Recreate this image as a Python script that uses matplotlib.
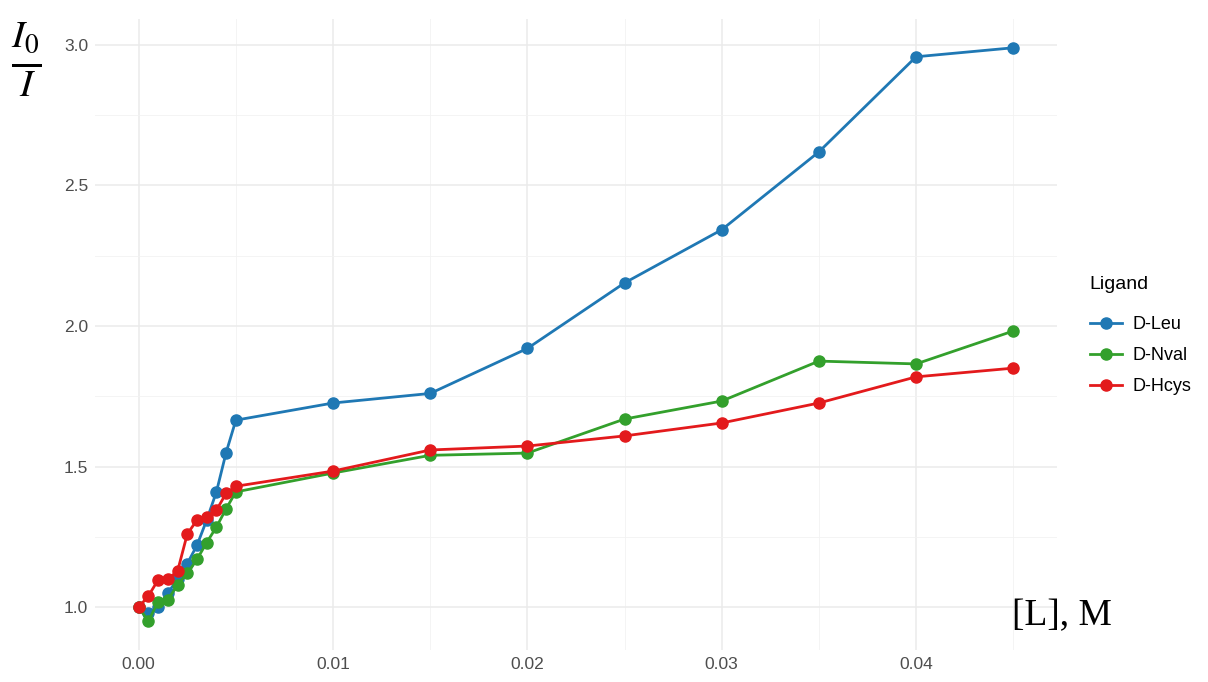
import numpy as np
import matplotlib.pyplot as plt
from matplotlib.ticker import MultipleLocator

# ligand concentration, M
conc = [0.0, 0.0005, 0.001, 0.0015, 0.002, 0.0025, 0.003, 0.0035, 0.004, 0.0045, 0.005,
        0.01, 0.015, 0.02, 0.025, 0.03, 0.035, 0.04, 0.045]

# I0/I for each ligand
d_leu = [1.00, 0.98, 1.00, 1.05, 1.10, 1.155, 1.22, 1.31, 1.41, 1.55, 1.665,
         1.726, 1.76, 1.92, 2.153, 2.342, 2.619, 2.957, 2.989]
d_nval = [1.00, 0.95, 1.02, 1.025, 1.08, 1.12, 1.17, 1.23, 1.285, 1.35, 1.41,
          1.477, 1.54, 1.548, 1.669, 1.733, 1.875, 1.865, 1.982]
d_hcys = [1.00, 1.04, 1.097, 1.10, 1.128, 1.26, 1.31, 1.32, 1.345, 1.405, 1.43,
          1.484, 1.559, 1.573, 1.609, 1.655, 1.726, 1.819, 1.85]

series = [("D-Leu", d_leu, "#1F78B4"),
          ("D-Nval", d_nval, "#33A02C"),
          ("D-Hcys", d_hcys, "#E31A1C")]

plt.rcParams['font.family'] = ['Liberation Sans', 'DejaVu Sans']
plt.rcParams['mathtext.fontset'] = 'stix'

fig = plt.figure(figsize=(12.08, 6.82), dpi=100)
ax = fig.add_axes([0.0786, 0.047, 0.7964, 0.925])

for name, vals, col in series:
    ax.plot(conc, vals, color=col, lw=2, marker='o', ms=8, label=name)

x0, x1 = 0.0, 0.045
y0, y1 = min(min(s[1]) for s in series), max(max(s[1]) for s in series)
ax.set_xlim(x0 - 0.05 * (x1 - x0), x1 + 0.05 * (x1 - x0))
ax.set_ylim(y0 - 0.05 * (y1 - y0), y1 + 0.05 * (y1 - y0))

ax.xaxis.set_major_locator(MultipleLocator(0.01))
ax.xaxis.set_minor_locator(MultipleLocator(0.005))
ax.yaxis.set_major_locator(MultipleLocator(0.5))
ax.yaxis.set_minor_locator(MultipleLocator(0.25))
ax.xaxis.set_major_formatter(plt.FuncFormatter(lambda v, p: f"{v:.2f}"))
ax.yaxis.set_major_formatter(plt.FuncFormatter(lambda v, p: f"{v:.1f}"))

ax.grid(which='major', color='#EBEBEB', lw=1.1)
ax.grid(which='minor', color='#F2F2F2', lw=0.6)
ax.set_axisbelow(True)
for s in ax.spines.values():
    s.set_visible(False)
ax.tick_params(which='both', length=0, labelsize=12.5, labelcolor='#4D4D4D', pad=5)

fig.text(0.022, 0.912, r"$\frac{I_0}{I}$", fontsize=40, ha='center', va='center')
fig.text(0.838, 0.097, "[L], M", fontsize=27, family='Liberation Serif',
         ha='left', va='center')

leg = ax.legend(title="Ligand", loc='center left', bbox_to_anchor=(1.017, 0.498),
                frameon=False, fontsize=13, title_fontsize=14, handlelength=1.8,
                handletextpad=0.6, labelspacing=0.78, alignment='left')
# a bit more room between the title and the entries
leg._legend_box.sep += 6

fig.savefig("out.png", dpi=100)
